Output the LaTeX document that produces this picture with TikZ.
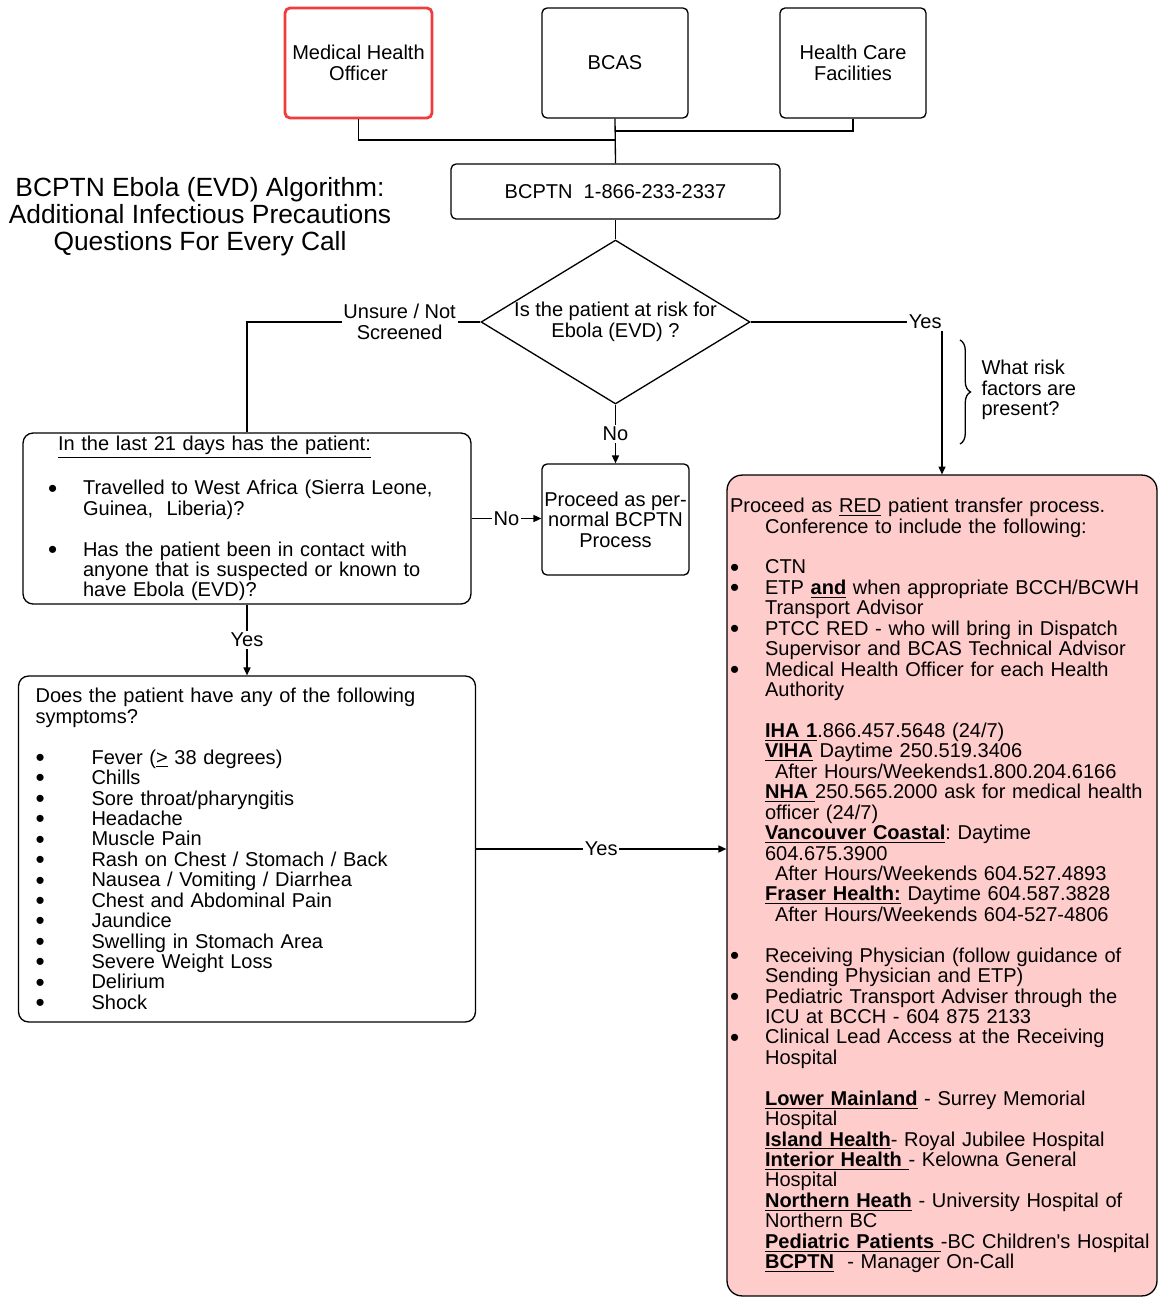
\documentclass[tikz,border=0pt]{standalone}
\usepackage{fontspec}
\setmainfont{Liberation Sans}
\usetikzlibrary{shapes.geometric,arrows.meta,decorations.pathreplacing}
\definecolor{redfill}{RGB}{255,204,204}
\definecolor{mhored}{RGB}{240,60,60}
\newcommand{\itm}[2]{\hspace*{#1}\makebox[#2][l]{\smash{\raisebox{-1.3pt}{\scalebox{1.3}{\textbullet}}}}}
\newcommand{\ulb}[1]{\underline{\textbf{#1}}}
\newcommand{\blank}{\\[\baselineskip]}
\frenchspacing
\begin{document}
\begin{tikzpicture}[x=0.02cm,y=-0.02cm,line width=0.75pt,
    every node/.style={font=\fontsize{11.4}{11.63}\selectfont},
    box/.style={draw,rounded corners=0.1cm,inner sep=0pt},
    lbl/.style={fill=white,inner sep=1pt,align=center},
    arr/.style={-{Triangle[length=4.5pt,width=4pt]}}]
    \useasboundingbox (0,0) rectangle (1159,1298);
    % Kopfzeile
    \node[box,draw=mhored,line width=1.6pt,minimum width=2.94cm,minimum height=2.2cm,align=center] (mho) at (358.5,63) {Medical Health\\Officer};
    \node[box,minimum width=2.92cm,minimum height=2.2cm] (bcas) at (615,63) {BCAS};
    \node[box,minimum width=2.92cm,minimum height=2.2cm,align=center] (hcf) at (853,63) {Health Care\\Facilities};
    \node[box,minimum width=6.58cm,minimum height=1.1cm] (bcptn) at (615.5,191.5) {BCPTN\ \ 1-866-233-2337};
    \coordinate (jm) at (615,140);
    \coordinate (jh) at (615,131);
    \draw (mho.south) |- (jm);
    \draw (hcf.south) |- (jh);
    \draw (bcas.south) -- (bcptn.north);
    % Titel
    \node[font=\fontsize{15}{15.36}\selectfont,align=center] (title) at (200,217) {BCPTN Ebola (EVD) Algorithm:\\Additional Infectious Precautions\\Questions For Every Call};
    % Entscheidung
    \node[draw,diamond,shape aspect=1.64,minimum width=5.38cm,minimum height=3.28cm,inner sep=0pt,align=center] (risk) at (615.5,322) {Is the patient at risk for\\Ebola (EVD) ?};
    \draw (bcptn.south) -- (risk.north);
    \node[box,minimum width=2.94cm,minimum height=2.22cm,align=center] (proceed) at (615.5,519.5) {Proceed as per-\\normal BCPTN\\Process};
    \node[box,rounded corners=0.2cm,minimum width=8.96cm,minimum height=3.42cm,text width=8.96cm,align=left] (last21) at (247,518.5) {\hspace*{0.7cm}\underline{In the last 21 days has the patient:}\blank
      \itm{0.5cm}{0.7cm}Travelled to West Africa (Sierra Leone,\\
      \hspace*{1.2cm}Guinea,\ \ Liberia)?\blank
      \itm{0.5cm}{0.7cm}Has the patient been in contact with\\
      \hspace*{1.2cm}anyone that is suspected or known to\\
      \hspace*{1.2cm}have Ebola (EVD)?};
    \node[box,rounded corners=0.2cm,minimum width=9.14cm,minimum height=6.92cm,text width=9.14cm,align=left] (symp) at (247,849) {\hspace*{0.34cm}Does the patient have any of the following\\
      \hspace*{0.34cm}symptoms?\blank
      \itm{0.34cm}{1.12cm}Fever (\underline{>} 38 degrees)\\
      \itm{0.34cm}{1.12cm}Chills\\
      \itm{0.34cm}{1.12cm}Sore throat/pharyngitis\\
      \itm{0.34cm}{1.12cm}Headache\\
      \itm{0.34cm}{1.12cm}Muscle Pain\\
      \itm{0.34cm}{1.12cm}Rash on Chest / Stomach / Back\\
      \itm{0.34cm}{1.12cm}Nausea / Vomiting / Diarrhea\\
      \itm{0.34cm}{1.12cm}Chest and Abdominal Pain\\
      \itm{0.34cm}{1.12cm}Jaundice\\
      \itm{0.34cm}{1.12cm}Swelling in Stomach Area\\
      \itm{0.34cm}{1.12cm}Severe Weight Loss\\
      \itm{0.34cm}{1.12cm}Delirium\\
      \itm{0.34cm}{1.12cm}Shock};
    % RED Prozess
    \node[box,fill=redfill,rounded corners=0.3cm,minimum width=8.6cm,minimum height=16.42cm,text width=8.48cm,inner xsep=0.06cm,align=left] (red) at (942,885.5) {\rule{0pt}{0.18cm}Proceed as \underline{RED} patient transfer process.\\
      \hspace*{0.7cm}Conference to include the following:\blank
      \itm{0pt}{0.7cm}CTN\\
      \itm{0pt}{0.7cm}ETP \ulb{and} when appropriate BCCH/BCWH\\
      \hspace*{0.7cm}Transport Advisor\\
      \itm{0pt}{0.7cm}PTCC RED - who will bring in Dispatch\\
      \hspace*{0.7cm}Supervisor and BCAS Technical Advisor\\
      \itm{0pt}{0.7cm}Medical Health Officer for each Health\\
      \hspace*{0.7cm}Authority\blank
      \hspace*{0.7cm}\ulb{IHA 1}.866.457.5648 (24/7)\\
      \hspace*{0.7cm}\ulb{VIHA} Daytime 250.519.3406\\
      \hspace*{0.9cm}After Hours/Weekends1.800.204.6166\\
      \hspace*{0.7cm}\ulb{NHA\ }250.565.2000 ask for medical health\\
      \hspace*{0.7cm}officer (24/7)\\
      \hspace*{0.7cm}\ulb{Vancouver Coastal}: Daytime\\
      \hspace*{0.7cm}604.675.3900\\
      \hspace*{0.9cm}After Hours/Weekends 604.527.4893\\
      \hspace*{0.7cm}\ulb{Fraser Health:} Daytime 604.587.3828\\
      \hspace*{0.9cm}After Hours/Weekends 604-527-4806\blank
      \itm{0pt}{0.7cm}Receiving Physician (follow guidance of\\
      \hspace*{0.7cm}Sending Physician and ETP)\\
      \itm{0pt}{0.7cm}Pediatric Transport Adviser through the\\
      \hspace*{0.7cm}ICU at BCCH - 604 875 2133\\
      \itm{0pt}{0.7cm}Clinical Lead Access at the Receiving\\
      \hspace*{0.7cm}Hospital\blank
      \hspace*{0.7cm}\ulb{Lower Mainland} - Surrey Memorial\\
      \hspace*{0.7cm}Hospital\\
      \hspace*{0.7cm}\ulb{Island Health}- Royal Jubilee Hospital\\
      \hspace*{0.7cm}\ulb{Interior Health\ }- Kelowna General\\
      \hspace*{0.7cm}Hospital\\
      \hspace*{0.7cm}\ulb{Northern Heath} - University Hospital of\\
      \hspace*{0.7cm}Northern BC\\
      \hspace*{0.7cm}\mbox{\ulb{Pediatric Patients\ }-BC Children\textquotesingle s Hospital}\\
      \hspace*{0.7cm}\ulb{BCPTN}\ \ - Manager On-Call};
    % Verbindungen
    \draw (risk.west) -| node[lbl,pos=0.173]{Unsure / Not\\Screened} (last21.north);
    \draw[arr] (risk.east) -| node[lbl,pos=0.456]{Yes} (red.north);
    \draw[arr] (risk.south) -- node[lbl]{No} (proceed.north);
    \draw[arr] (last21.east) -- node[lbl]{No} (last21.east -| proceed.west);
    \draw[arr] (last21.south) -- node[lbl]{Yes} (symp.north);
    \draw[arr] (symp.east) -- node[lbl]{Yes} (symp.east -| red.west);
    \draw[decorate,decoration={brace,amplitude=6pt}] (960,340) -- (960,444);
    \node[align=left,anchor=west] (riskq) at (975,390) {What risk\\factors are\\present?};
\end{tikzpicture}
\end{document}
